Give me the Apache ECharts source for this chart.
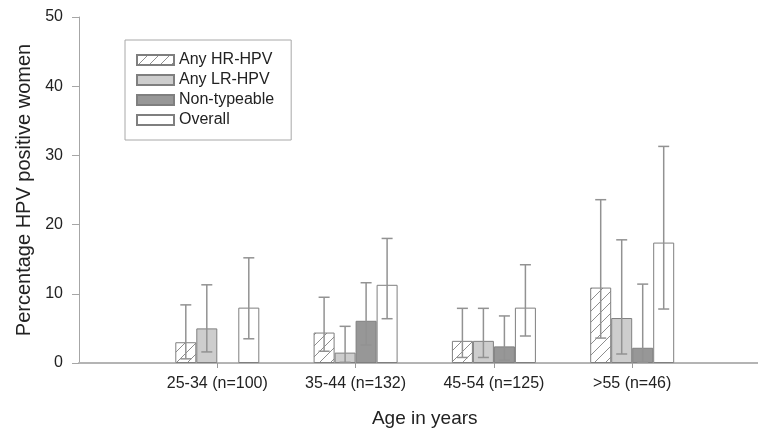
<!DOCTYPE html>
<html><head><meta charset="utf-8">
<script src="https://cdn.jsdelivr.net/npm/echarts@6/dist/echarts.min.js"></script>
<style>html,body{margin:0;padding:0;background:#fff}#c{width:758px;height:431px}</style>
</head><body><div id="c"></div>
<script>
// ---- data ----
var categories = ['25-34 (n=100)', '35-44 (n=132)', '45-54 (n=125)', '>55 (n=46)'];
var seriesNames = ['Any HR-HPV', 'Any LR-HPV', 'Non-typeable', 'Overall'];
var hrValues  = [3.0, 4.4, 3.2, 10.9];
var hrLow     = [0.6, 1.7, 0.8, 3.6];
var hrHigh    = [8.4, 9.5, 7.9, 23.6];
var lrValues  = [5.0, 1.5, 3.2, 6.5];
var lrLow     = [1.6, 0.1, 0.8, 1.3];
var lrHigh    = [11.3, 5.3, 7.9, 17.8];
var ntValues  = [null, 6.1, 2.4, 2.2];
var ntLow     = [null, 2.6, 0.4, 0.1];
var ntHigh    = [null, 11.6, 6.8, 11.4];
var ovValues  = [8.0, 11.3, 8.0, 17.4];
var ovLow     = [3.5, 6.4, 3.9, 7.8];
var ovHigh    = [15.2, 18.0, 14.2, 31.3];
var yTicks = [0, 10, 20, 30, 40, 50];

// ---- style ----
var FONT = "'Liberation Sans', Arial, sans-serif";
var BAR_W = 21;
var edge = '#7f7f7f';

function hatch() {
  var s = 11;
  var c = document.createElement('canvas');
  c.width = s; c.height = s;
  var g = c.getContext('2d');
  g.fillStyle = '#ffffff'; g.fillRect(0, 0, s, s);
  g.strokeStyle = '#8e8e8e'; g.lineWidth = 1;
  g.beginPath();
  g.moveTo(0, s); g.lineTo(s, 0);
  g.moveTo(-s / 2, s / 2); g.lineTo(s / 2, -s / 2);
  g.moveTo(s / 2, s * 1.5); g.lineTo(s * 1.5, s / 2);
  g.stroke();
  return c;
}

var axisCats = [''].concat(categories).concat(['']);
function pad(arr) { return [null].concat(arr).concat([null]); }

var fills = [{image: hatch(), repeat: 'repeat'}, '#cdcdcd', '#979797', '#ffffff'];
var vals = [hrValues, lrValues, ntValues, ovValues];
var lows = [hrLow, lrLow, ntLow, ovLow];
var highs = [hrHigh, lrHigh, ntHigh, ovHigh];

var series = seriesNames.map(function (n, k) {
  return {
    name: n, type: 'bar', barWidth: BAR_W, barGap: '0%',
    data: pad(vals[k]),
    itemStyle: {color: fills[k], borderColor: edge, borderWidth: 1},
    emphasis: {disabled: true}, z: 2
  };
});

var errData = [];
for (var k = 0; k < 4; k++) {
  for (var i = 0; i < categories.length; i++) {
    if (lows[k][i] != null) errData.push([i + 1, lows[k][i], highs[k][i], k]);
  }
}
series.push({
  type: 'custom', z: 5, silent: true,
  data: errData,
  renderItem: function (params, api) {
    var off = (api.value(3) - 1.5) * BAR_W;
    var lo = api.coord([api.value(0), api.value(1)]);
    var hi = api.coord([api.value(0), api.value(2)]);
    var x = lo[0] + off;
    var st = {stroke: '#929292', lineWidth: 1.5};
    return {type: 'group', children: [
      {type: 'line', shape: {x1: x, y1: lo[1], x2: x, y2: hi[1]}, style: st},
      {type: 'line', shape: {x1: x - 5.5, y1: hi[1], x2: x + 5.5, y2: hi[1]}, style: st},
      {type: 'line', shape: {x1: x - 5.5, y1: lo[1], x2: x + 5.5, y2: lo[1]}, style: st}
    ]};
  }
});

var chart = echarts.init(document.getElementById('c'), null, {renderer: 'canvas'});
chart.setOption({
  animation: false,
  backgroundColor: '#ffffff',
  textStyle: {fontFamily: FONT},
  grid: {left: 79, top: 17, bottom: 68, right: -12.5, outerBoundsMode: 'none', containLabel: false},
  legend: {
    data: seriesNames, orient: 'vertical', left: 125, top: 40,
    icon: 'rect', itemWidth: 37, itemHeight: 10, itemGap: 4, itemTextGap: 11,
    padding: [12, 17, 12, 11], borderColor: '#a8a8a8', borderWidth: 1,
    selectedMode: false,
    textStyle: {fontFamily: FONT, fontSize: 16, color: '#222', lineHeight: 16}
  },
  xAxis: {
    type: 'category', data: axisCats, boundaryGap: false,
    axisLine: {lineStyle: {color: '#b4b4b4', width: 2}},
    axisTick: {length: 5, lineStyle: {color: '#9a9a9a'}, interval: function (i) { return i > 0 && i <= categories.length; }},
    axisLabel: {fontFamily: FONT, fontSize: 16, color: '#222', margin: 13, interval: 0},
    name: 'Age in years', nameLocation: 'middle', nameGap: 46,
    nameTextStyle: {fontFamily: FONT, fontSize: 19, color: '#222'}
  },
  yAxis: {
    type: 'value', min: yTicks[0], max: yTicks[yTicks.length - 1], interval: 10,
    axisLine: {show: true, lineStyle: {color: '#a6a6a6'}},
    axisTick: {show: true, length: 7, lineStyle: {color: '#a6a6a6'}},
    splitLine: {show: false},
    axisLabel: {fontFamily: FONT, fontSize: 16, color: '#222', margin: 16},
    name: 'Percentage HPV positive women', nameLocation: 'middle', nameGap: 40,
    nameTextStyle: {fontFamily: FONT, fontSize: 20, color: '#222'}
  },
  series: series
});
</script></body></html>
